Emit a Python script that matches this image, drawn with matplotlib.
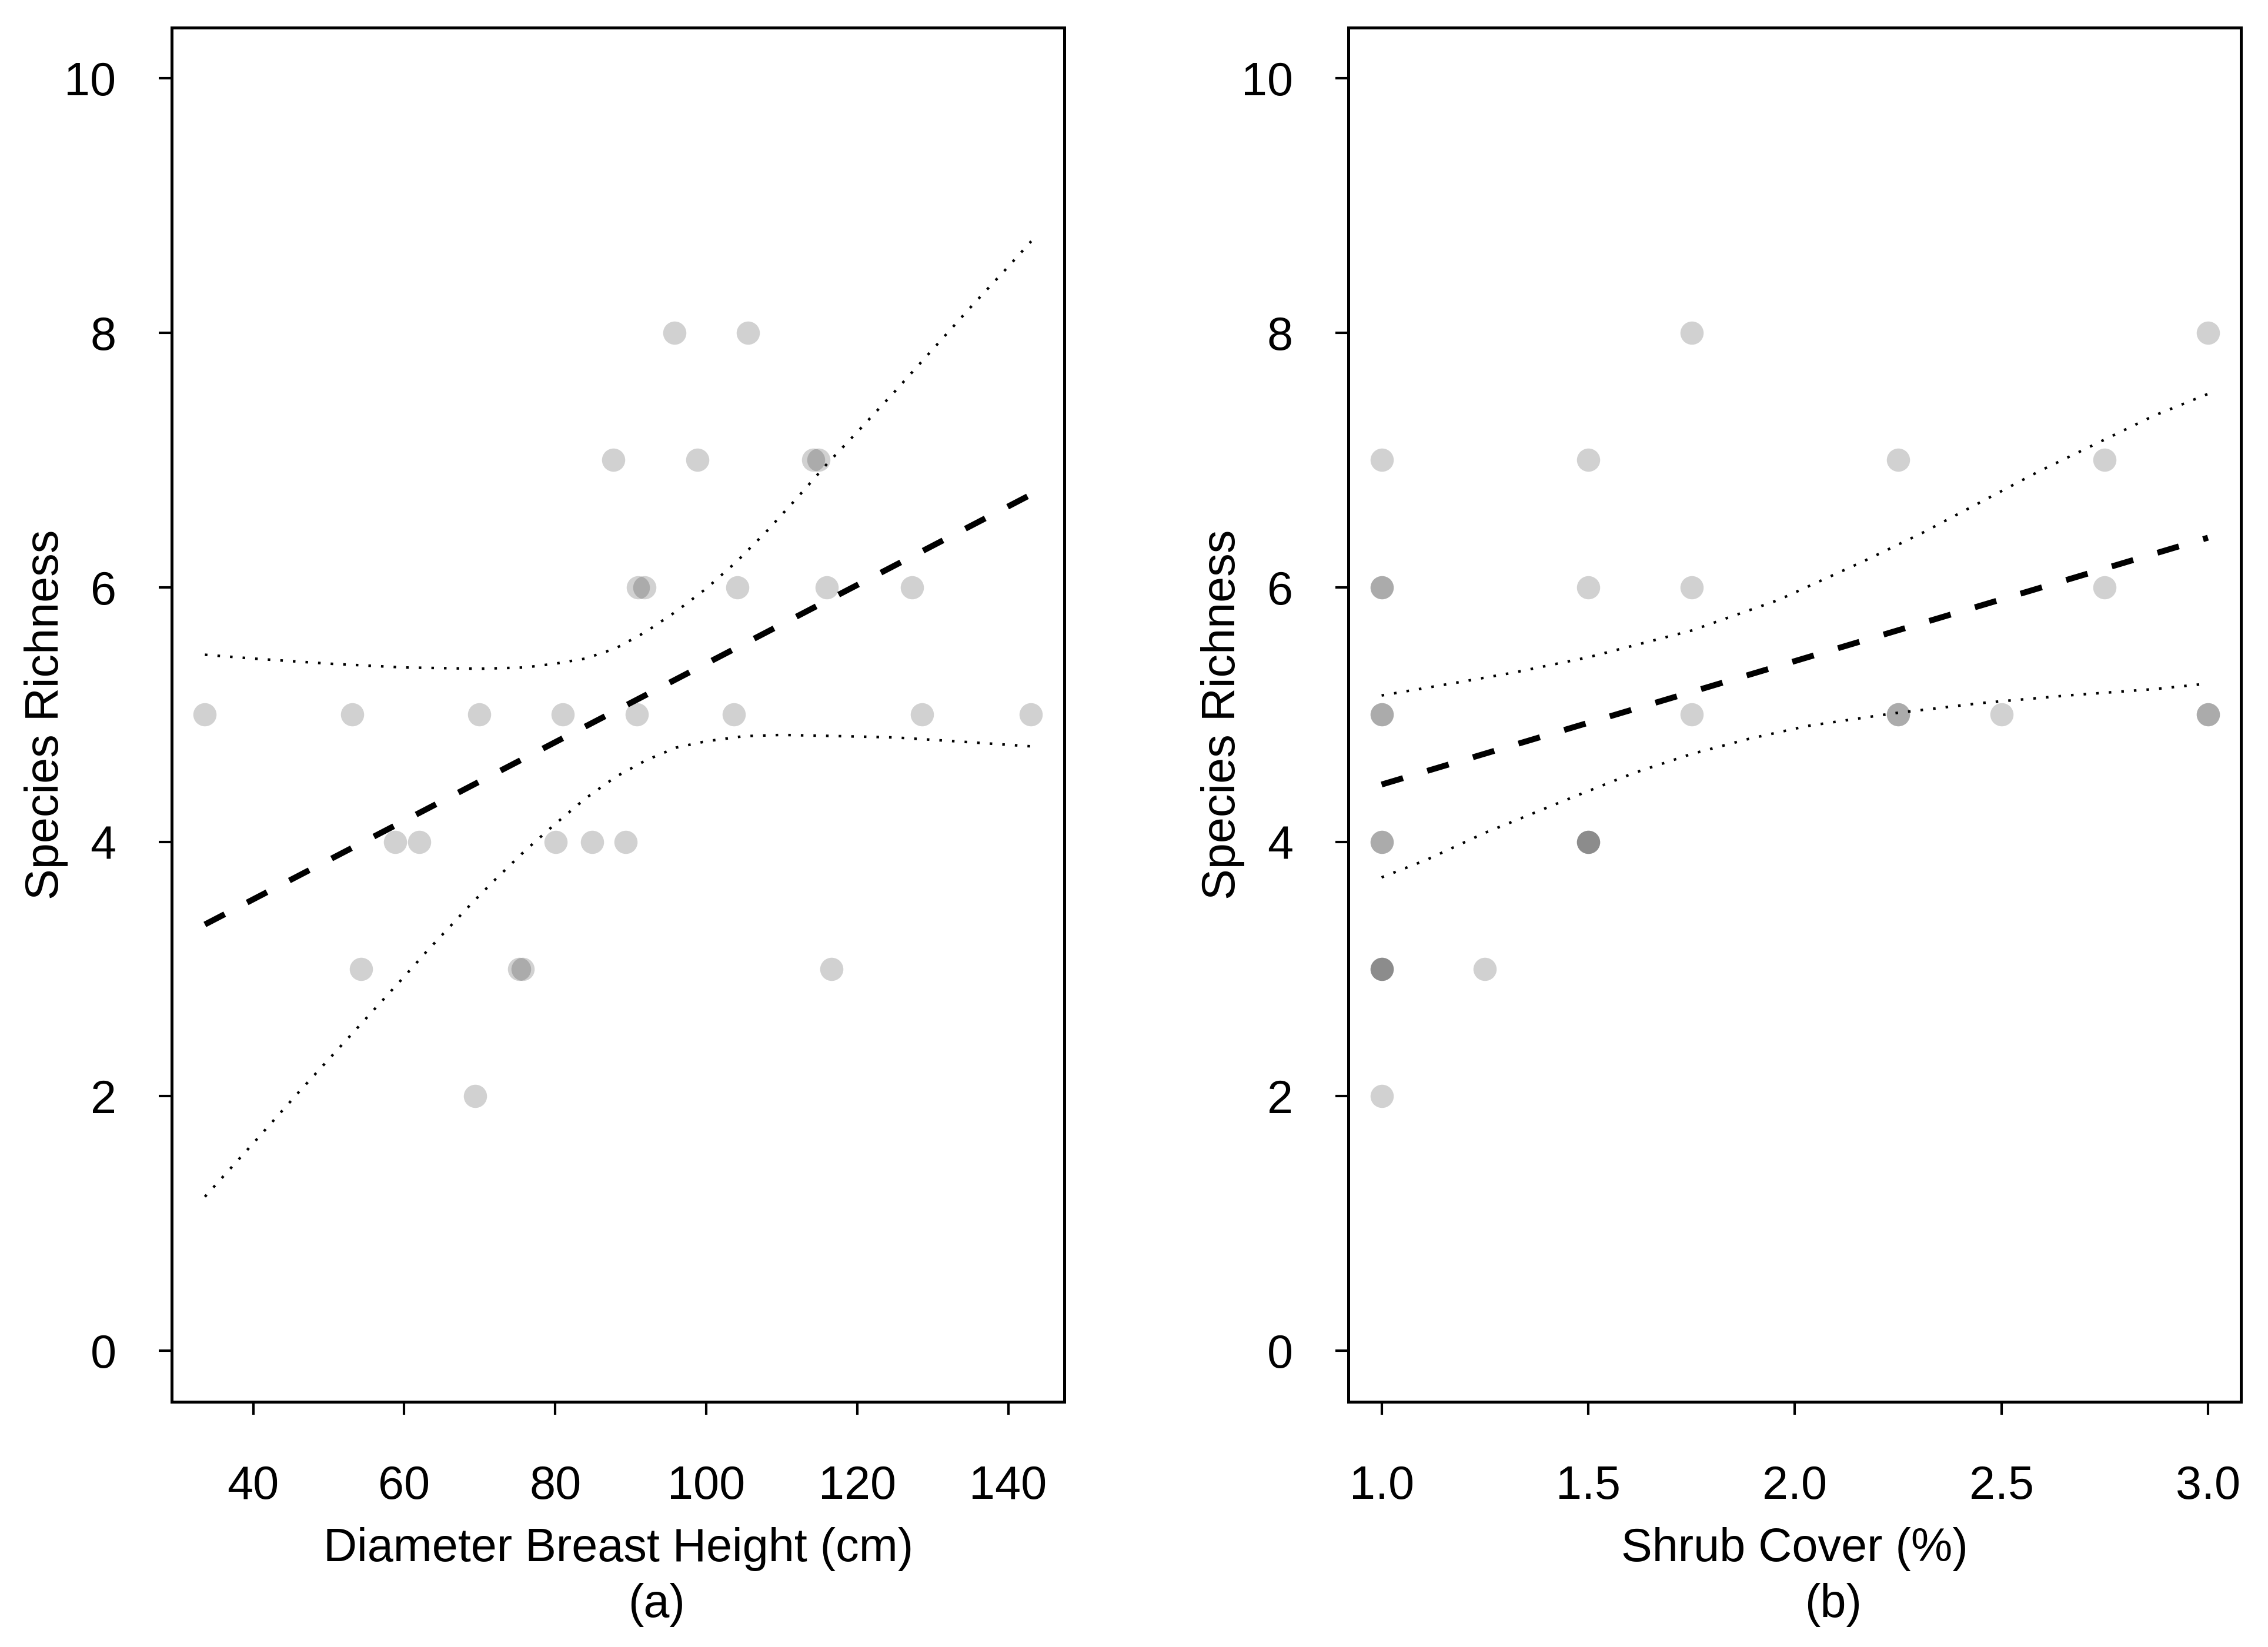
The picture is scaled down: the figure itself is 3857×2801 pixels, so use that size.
import matplotlib
matplotlib.use("Agg")
import matplotlib.pyplot as plt

plt.rcParams['font.family'] = ['Liberation Sans', 'DejaVu Sans']

# ---------------- data ----------------
richness = [8, 8, 7, 7, 7, 7, 6, 6, 6, 6, 6, 5, 5, 5, 5, 5, 5, 5, 5,
            4, 4, 4, 4, 4, 3, 3, 3, 3, 2]

dbh = [95.8, 105.5, 87.7, 98.8, 114.2, 114.9, 91.0, 91.8, 104.1, 116.0, 127.3,
       33.6, 53.1, 69.9, 81.0, 90.8, 103.7, 128.6, 143.0,
       58.8, 62.0, 80.1, 84.9, 89.3, 54.3, 75.2, 75.7, 116.6, 69.4]

shrub = [1.75, 3.0, 1.0, 1.5, 2.25, 2.75, 1.0, 1.0, 1.5, 1.75, 2.75,
         1.0, 1.0, 1.75, 2.25, 2.25, 2.5, 3.0, 3.0,
         1.0, 1.0, 1.5, 1.5, 1.5, 1.0, 1.0, 1.0, 1.25, 1.0]

# fitted lines (endpoints)
fit_a_x = [33.6, 143.05]
fit_a_y = [3.35, 6.73]
fit_b_x = [1.0, 3.0]
fit_b_y = [4.45, 6.39]

# confidence bands, panel (a)
upper_a_x = [33.6, 40, 50, 60, 70, 76, 80, 84, 88, 92, 96, 100, 104, 108,
             112, 116, 120, 125, 130, 135, 140, 143.05]
upper_a_y = [5.47, 5.44, 5.40, 5.37, 5.36, 5.37, 5.40, 5.44, 5.52, 5.65, 5.81,
             5.99, 6.20, 6.44, 6.70, 6.97, 7.22, 7.54, 7.87, 8.20, 8.52, 8.72]
lower_a_x = [33.6, 40, 46, 52, 56, 60, 63, 66, 69, 72, 76, 80, 84, 88, 92, 96,
             100, 105, 110, 118, 125, 133, 143.05]
lower_a_y = [1.21, 1.63, 2.03, 2.42, 2.68, 2.94, 3.14, 3.33, 3.52, 3.70, 3.93, 4.14,
             4.34, 4.51, 4.64, 4.74, 4.79, 4.83, 4.84, 4.83, 4.82, 4.79, 4.75]

# confidence bands, panel (b)
upper_b_x = [1.0, 1.18, 1.32, 1.5, 1.75, 1.96, 2.17, 2.31, 2.45, 2.59, 2.73, 2.87, 3.0]
upper_b_y = [5.15, 5.25, 5.33, 5.45, 5.66, 5.90, 6.21, 6.43, 6.67, 6.91, 7.13, 7.35, 7.52]
lower_b_x = [1.0, 1.11, 1.25, 1.47, 1.61, 1.75, 1.89, 2.03, 2.24, 2.45, 2.66, 2.87, 2.99]
lower_b_y = [3.72, 3.86, 4.07, 4.36, 4.54, 4.69, 4.81, 4.91, 5.01, 5.09, 5.15, 5.20, 5.24]

xticks_a = [40, 60, 80, 100, 120, 140]
xticks_b = [1.0, 1.5, 2.0, 2.5, 3.0]
xticklabels_b = ["1.0", "1.5", "2.0", "2.5", "3.0"]
yticks = [0, 2, 4, 6, 8, 10]

# ---------------- figure ----------------
W, H, DPI = 3857, 2801, 300
fig = plt.figure(figsize=(W / DPI, H / DPI), dpi=DPI)
fig.patch.set_facecolor('white')

ax_b = 0.1490
ax_h = 0.8343
ax_w = 0.3935
axA = fig.add_axes([0.07576, ax_b, ax_w, ax_h])
axB = fig.add_axes([0.5946, ax_b, ax_w, ax_h])

FS = 19
dash_style = (0, (3.8, 4.3))
dot_style = (0, (1, 3.9))


def style_axes(ax):
    for s in ax.spines.values():
        s.set_linewidth(1.2)
        s.set_color('black')
    ax.tick_params(axis='both', which='both', direction='out', length=5.2,
                   width=1.0, labelsize=FS, top=False, right=False,
                   colors='black')
    ax.tick_params(axis='x', pad=20.5)
    ax.tick_params(axis='y', pad=17.5)
    ax.set_yticks(yticks)
    ax.set_ylim(-0.4, 10.4)
    ax.text(-0.1271, 0.5, "Species Richness", transform=ax.transAxes,
            rotation=90, rotation_mode='anchor', ha='center', va='baseline',
            fontsize=FS)


def panel(ax, x, y, fx, fy, ux, uy, lx, ly):
    ax.scatter(x, y, s=90, c='black', alpha=0.18, linewidths=0, zorder=2)
    ax.plot(fx, fy, color='black', lw=2.4, linestyle=dash_style,
            dash_capstyle='butt', zorder=3)
    ax.plot(ux, uy, color='black', lw=1.05, linestyle=dot_style,
            dash_capstyle='butt', zorder=3)
    ax.plot(lx, ly, color='black', lw=1.05, linestyle=dot_style,
            dash_capstyle='butt', zorder=3)


# panel (a)
panel(axA, dbh, richness, fit_a_x, fit_a_y, upper_a_x, upper_a_y, lower_a_x, lower_a_y)
style_axes(axA)
axA.set_xlim(29.22, 147.43)
axA.set_xticks(xticks_a)
axA.set_xticklabels([str(v) for v in xticks_a])
axA.text(0.5, -0.1160, "Diameter Breast Height (cm)", transform=axA.transAxes,
         ha='center', va='baseline', fontsize=FS)
axA.text(0.543, -0.1566, "(a)", transform=axA.transAxes,
         ha='center', va='baseline', fontsize=FS)

# panel (b)
panel(axB, shrub, richness, fit_b_x, fit_b_y, upper_b_x, upper_b_y, lower_b_x, lower_b_y)
style_axes(axB)
axB.set_xlim(0.92, 3.08)
axB.set_xticks(xticks_b)
axB.set_xticklabels(xticklabels_b)
axB.text(0.5, -0.1160, "Shrub Cover (%)", transform=axB.transAxes,
         ha='center', va='baseline', fontsize=FS)
axB.text(0.543, -0.1566, "(b)", transform=axB.transAxes,
         ha='center', va='baseline', fontsize=FS)

fig.savefig("out.png", dpi=DPI, facecolor='white')
